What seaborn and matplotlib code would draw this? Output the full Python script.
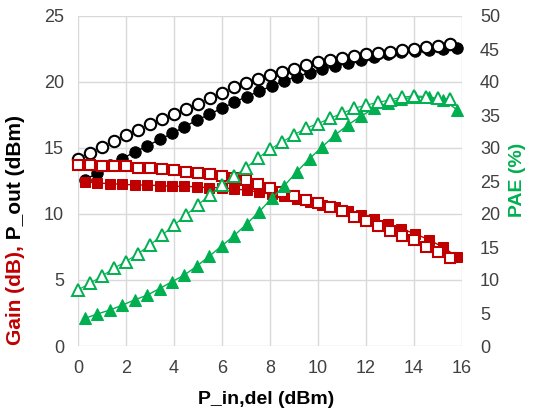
import matplotlib
matplotlib.use("Agg")
import matplotlib.pyplot as plt
import seaborn as sns

# ---- values ----
# open symbols (one sweep, 0.5 dB steps)
pin_open = [0.0, 0.5, 1.0, 1.5, 2.0, 2.5, 3.0, 3.5, 4.0, 4.5, 5.0, 5.5, 6.0, 6.5, 7.0, 7.5,
            8.0, 8.5, 9.0, 9.5, 10.0, 10.5, 11.0, 11.5, 12.0, 12.5, 13.0, 13.5, 14.0, 14.5, 15.0, 15.5]
pout_open = [14.2, 14.65, 15.1, 15.55, 16.0, 16.4, 16.8, 17.2, 17.6, 17.95, 18.35, 18.8, 19.2, 19.6, 19.95, 20.2,
             20.5, 20.75, 21.0, 21.3, 21.5, 21.65, 21.8, 21.95, 22.1, 22.2, 22.3, 22.4, 22.5, 22.65, 22.75, 22.85]
gain_open = [13.7, 13.7, 13.65, 13.65, 13.6, 13.5, 13.45, 13.4, 13.3, 13.2, 13.1, 13.0, 12.9, 12.7, 12.55, 12.3,
             12.0, 11.65, 11.35, 11.05, 10.8, 10.5, 10.2, 9.8, 9.45, 9.1, 8.7, 8.35, 8.0, 7.5, 7.1, 6.65]
pae_open = [8.5, 9.5, 10.6, 11.8, 12.8, 14.0, 15.3, 16.8, 18.3, 19.85, 21.4, 22.9, 24.4, 25.7, 27.0, 28.5,
            29.8, 30.9, 32.0, 33.0, 33.7, 34.5, 35.25, 36.0, 36.5, 36.9, 37.3, 37.7, 37.9, 37.8, 37.5, 37.4]

# filled symbols (second sweep)
pin_fill = [0.3, 0.8, 1.33, 1.85, 2.37, 2.88, 3.4, 3.92, 4.43, 4.95, 5.47, 5.98, 6.5, 7.03, 7.55,
            8.08, 8.6, 9.12, 9.65, 10.18, 10.72, 11.25, 11.8, 12.35, 12.9, 13.45, 14.05, 14.62, 15.2, 15.8]
pout_fill = [12.6, 13.1, 13.7, 14.2, 14.7, 15.15, 15.65, 16.1, 16.6, 17.1, 17.55, 18.0, 18.45, 18.9, 19.3,
             19.7, 20.1, 20.4, 20.7, 20.95, 21.2, 21.45, 21.7, 21.9, 22.1, 22.25, 22.35, 22.45, 22.5, 22.6]
gain_fill = [12.45, 12.35, 12.3, 12.25, 12.2, 12.2, 12.15, 12.1, 12.1, 12.05, 12.0, 12.0, 11.9, 11.8, 11.65,
             11.5, 11.35, 11.1, 10.9, 10.7, 10.5, 10.25, 9.95, 9.6, 9.25, 8.9, 8.5, 8.05, 7.5, 6.75]
pae_fill = [4.2, 4.85, 5.45, 6.2, 7.0, 7.7, 8.7, 9.75, 10.75, 12.1, 13.6, 15.15, 16.7, 18.5, 20.35,
            22.4, 24.3, 26.4, 28.4, 30.2, 32.0, 33.5, 34.85, 36.0, 36.8, 37.4, 37.7, 37.7, 37.3, 35.8]

RED = "#C00000"
GREEN = "#00B050"
TICK = "#404040"

sns.set_style("white")
plt.rcParams["font.family"] = ["Liberation Sans", "DejaVu Sans"]

fig = plt.figure(figsize=(5.34, 4.11), dpi=100)
ax = fig.add_axes([78 / 534, 1 - 346 / 411, 384 / 534, 330 / 411])
ax2 = ax.twinx()

# left axis: P_out and gain (filled first, open on top)
sns.lineplot(x=pin_fill, y=pout_fill, ax=ax, color="black", linewidth=1.0, marker="o",
             markersize=8.2, markerfacecolor="black", markeredgecolor="black", clip_on=False)
sns.lineplot(x=pin_fill, y=gain_fill, ax=ax, color=RED, linewidth=1.0, marker="s",
             markersize=7.2, markerfacecolor=RED, markeredgecolor=RED, clip_on=False)
sns.lineplot(x=pin_open, y=pout_open, ax=ax, color="#B8A040", linewidth=0.8, marker="o",
             markersize=8.2, markerfacecolor="white", markeredgecolor="black",
             markeredgewidth=1.5, clip_on=False)
sns.lineplot(x=pin_open, y=gain_open, ax=ax, color="#6A4C93", linewidth=0.8, marker="s",
             markersize=7.2, markerfacecolor="white", markeredgecolor=RED,
             markeredgewidth=1.5, clip_on=False)

# right axis: PAE
sns.lineplot(x=pin_fill, y=pae_fill, ax=ax2, color=GREEN, linewidth=1.0, marker="^",
             markersize=8.8, markerfacecolor=GREEN, markeredgecolor=GREEN, clip_on=False)
sns.lineplot(x=pin_open, y=pae_open, ax=ax2, color=GREEN, linewidth=0.8, marker="^",
             markersize=8.8, markerfacecolor="white", markeredgecolor=GREEN,
             markeredgewidth=1.4, clip_on=False)

ax.set_xlim(0, 16)
ax.set_ylim(0, 25)
ax2.set_ylim(0, 50)
ax.set_xticks(range(0, 17, 2))
ax.set_yticks(range(0, 26, 5))
ax2.set_yticks(range(0, 51, 5))

ax.grid(True, color="#D9D9D9", linewidth=1.0)
ax2.grid(False)
for a in (ax, ax2):
    for s in a.spines.values():
        s.set_visible(False)
ax.tick_params(axis="both", length=0, labelsize=13, labelcolor=TICK, pad=10)
ax2.tick_params(axis="y", length=0, labelsize=13, labelcolor=TICK, pad=13)

ax.set_xlabel("")
ax.set_ylabel("")
ax2.set_ylabel("")

fig.text(266 / 534, 1 - 399 / 411, "P_in,del (dBm)", ha="center", va="center",
         fontsize=14, fontweight="bold", color="black")
fig.text(518 / 534, 1 - 180 / 411, "PAE (%)", rotation=90, ha="center", va="center",
         fontsize=14, fontweight="bold", color=GREEN)

# two-colour left label
fig.canvas.draw()
renderer = fig.canvas.get_renderer()
t1 = fig.text(16 / 534, 66 / 411, "Gain (dB),", rotation=90, ha="center", va="bottom",
              fontsize=15, fontweight="bold", color=RED)
bb = t1.get_window_extent(renderer)
fig.text(16 / 534, bb.y1 / fig.bbox.height, " P_out (dBm)", rotation=90, ha="center",
         va="bottom", fontsize=15, fontweight="bold", color="black")

fig.savefig("out.png", dpi=100)
